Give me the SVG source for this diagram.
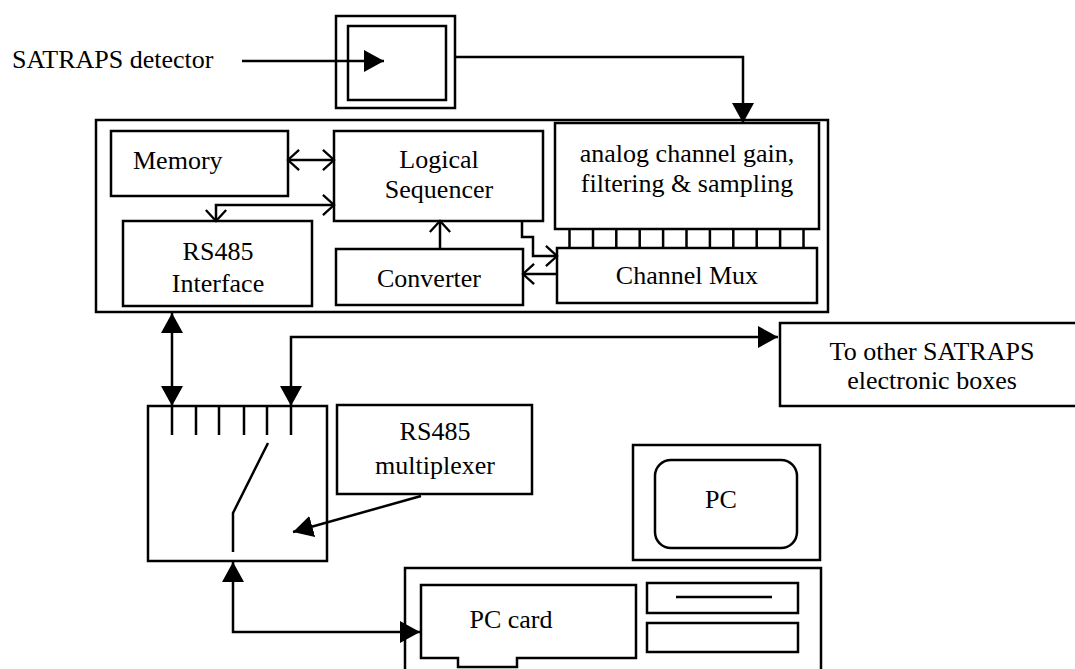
<svg xmlns="http://www.w3.org/2000/svg" width="1075" height="669" viewBox="0 0 1075 669">
<style>
.b{fill:none;stroke:#000;stroke-width:2.5}
.c{fill:none;stroke:#000;stroke-width:2.5}
.t{font-family:"Liberation Serif","Times New Roman",serif;font-size:26px;fill:#000}
.m{text-anchor:middle}
</style>
<defs>
<marker id="fa" markerUnits="userSpaceOnUse" markerWidth="22" markerHeight="24" refX="20" refY="11" orient="auto-start-reverse" viewBox="0 0 22 24">
<path d="M0,0 L20,11 L0,22 z" fill="#000"/>
</marker>
<marker id="oa" markerUnits="userSpaceOnUse" markerWidth="16" markerHeight="24" refX="12" refY="11" orient="auto-start-reverse" viewBox="-2 -2 16 26" overflow="visible">
<path d="M0,0 L12,11 L0,22" fill="none" stroke="#000" stroke-width="2.5"/>
</marker>
</defs>
<rect width="1075" height="669" fill="#fff"/>

<g id="detector-label"><text class="t" x="12" y="68">SATRAPS detector</text></g>

<g id="detector">
<rect class="b" x="336" y="16" width="119" height="92"/>
<rect class="b" x="348" y="26" width="98" height="74"/>
</g>

<g id="electronics-box"><rect class="b" x="96" y="120" width="732" height="192"/></g>

<g id="memory">
<rect class="b" x="111" y="131" width="177" height="65"/>
<text class="t" x="133" y="169">Memory</text>
</g>

<g id="logical-sequencer">
<rect class="b" x="334" y="131" width="209" height="90"/>
<text class="t m" x="439" y="168">Logical</text>
<text class="t m" x="439" y="198">Sequencer</text>
</g>

<g id="analog">
<rect class="b" x="555" y="123" width="264" height="106"/>
<text class="t m" x="687" y="162">analog channel gain,</text>
<text class="t m" x="687" y="192">filtering &amp; sampling</text>
</g>

<g id="rs485-interface">
<rect class="b" x="123" y="221" width="189" height="85"/>
<text class="t m" x="218" y="260">RS485</text>
<text class="t m" x="218" y="292">Interface</text>
</g>

<g id="converter">
<rect class="b" x="336" y="249" width="187" height="56"/>
<text class="t m" x="429" y="287">Converter</text>
</g>

<g id="channel-mux">
<rect class="b" x="557" y="248" width="260" height="55"/>
<text class="t m" x="687" y="284">Channel Mux</text>
</g>

<g id="analog-mux-lines">
<path class="c" d="M569.5,229V248M593,229V248M616.3,229V248M639.7,229V248M663.1,229V248M686.5,229V248M709.9,229V248M733.3,229V248M756.7,229V248M780.1,229V248M803.5,229V248"/>
</g>

<g id="switch">
<rect class="b" x="148" y="406" width="179" height="155"/>
<path class="c" d="M172,406V435M196,406V435M219,406V435M244,406V435M267,406V435M291,406V435"/>
<path class="c" d="M268,443L233,513V552"/>
</g>

<g id="rs485-multiplexer">
<rect class="b" x="337" y="405" width="195" height="89"/>
<text class="t m" x="435" y="440">RS485</text>
<text class="t m" x="435" y="474">multiplexer</text>
</g>

<g id="other-boxes">
<rect class="b" x="780" y="323" width="305" height="83"/>
<text class="t m" x="932" y="360">To other SATRAPS</text>
<text class="t m" x="932" y="389">electronic boxes</text>
</g>

<g id="pc-monitor">
<rect class="b" x="633" y="445" width="187" height="115"/>
<rect class="b" x="655" y="460" width="142" height="88" rx="16" ry="16"/>
<text class="t m" x="721" y="508">PC</text>
</g>

<g id="pc-base">
<rect class="b" x="405" y="568" width="416" height="120"/>
<path class="b" d="M421,585H636V658H517V667H458V658H421Z"/>
<text class="t m" x="511" y="628">PC card</text>
<rect class="b" x="647" y="583" width="151" height="30"/>
<line class="c" x1="676" y1="597" x2="772" y2="597"/>
<rect class="b" x="647" y="623" width="151" height="29"/>
</g>

<g id="connectors">
<path class="c" d="M242,61H384" marker-end="url(#fa)"/>
<path class="c" d="M455,57H743V123" marker-end="url(#fa)"/>
<path class="c" d="M288,160H334" marker-start="url(#oa)" marker-end="url(#oa)"/>
<path class="c" d="M216,221V205H334" marker-start="url(#oa)" marker-end="url(#oa)"/>
<path class="c" d="M440,249V221" marker-end="url(#oa)"/>
<path class="c" d="M522,221V237H533V256H557" marker-end="url(#oa)"/>
<path class="c" d="M557,274H523" marker-end="url(#oa)"/>
<path class="c" d="M172,313V406" marker-start="url(#fa)" marker-end="url(#fa)"/>
<path class="c" d="M291,406V337H778" marker-start="url(#fa)" marker-end="url(#fa)"/>
<path class="c" d="M421,496L293,532" marker-end="url(#fa)"/>
<path class="c" d="M233,562V632H420" marker-start="url(#fa)" marker-end="url(#fa)"/>
</g>
</svg>
